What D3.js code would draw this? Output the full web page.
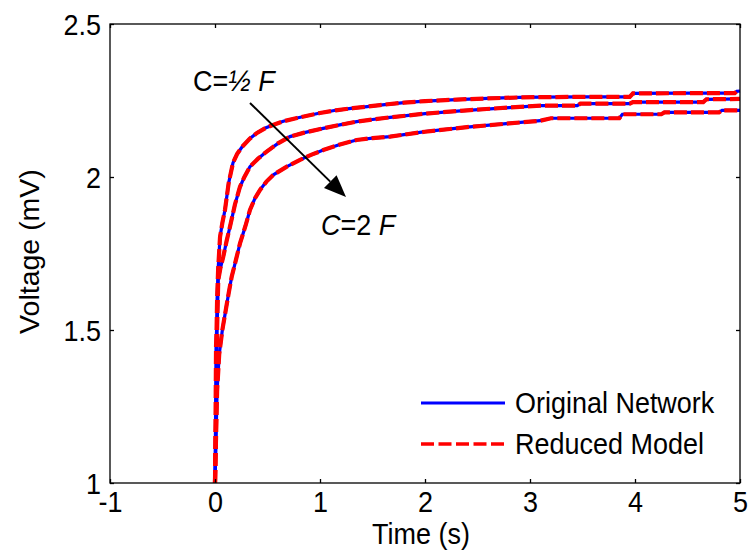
<!DOCTYPE html>
<html><head><meta charset="utf-8">
<script src="https://cdn.jsdelivr.net/npm/d3@7"></script>
<style>
body{margin:0;background:#fff;}
svg text{font-family:"Liberation Sans",Arial,Helvetica,sans-serif;fill:#000;}
.cS{transform-box:fill-box;transform-origin:left center;transform:scaleX(0.93);}
.cM{transform-box:fill-box;transform-origin:center;transform:scaleX(0.93);}
.cE{transform-box:fill-box;transform-origin:right center;transform:scaleX(0.93);}
</style></head>
<body><svg id="c" width="751" height="555"></svg>
<script>
// ---- data ----
const xTicks = [-1, 0, 1, 2, 3, 4, 5];
const xTickLabels = ["-1", "0", "1", "2", "3", "4", "5"];
const yTicks = [1, 1.5, 2, 2.5];
const yTickLabels = ["1", "1.5", "2", "2.5"];

const timeHalf = [0, 0.005, 0.01, 0.015, 0.02, 0.03, 0.048, 0.07, 0.095, 0.13, 0.171, 0.21, 0.257, 0.33, 0.4, 0.48, 0.552, 0.65, 0.781, 0.9, 1.0, 1.15, 1.314, 1.45, 1.571, 1.8, 2.0, 2.3, 2.6, 2.9, 3.1, 3.5, 3.95, 3.98, 4.5, 4.95, 4.97, 5.0];
const voltHalf = [1.0, 1.2, 1.45, 1.5, 1.6, 1.7, 1.804, 1.85, 1.892, 1.98, 2.046, 2.075, 2.098, 2.125, 2.144, 2.16, 2.170, 2.182, 2.193, 2.202, 2.209, 2.218, 2.225, 2.23, 2.235, 2.243, 2.248, 2.253, 2.257, 2.26, 2.261, 2.262, 2.262, 2.273, 2.274, 2.274, 2.280, 2.281];

const timeOne = [0, 0.01, 0.02, 0.031, 0.05, 0.079, 0.11, 0.143, 0.19, 0.238, 0.28, 0.333, 0.41, 0.492, 0.6, 0.714, 0.85, 1.031, 1.2, 1.349, 1.5, 1.667, 2.0, 2.4, 2.8, 3.1, 3.45, 3.48, 3.95, 3.98, 4.65, 4.68, 5.0];
const voltOne = [1.0, 1.2, 1.5, 1.663, 1.70, 1.740, 1.79, 1.838, 1.91, 1.968, 2.0, 2.034, 2.06, 2.083, 2.11, 2.132, 2.145, 2.159, 2.171, 2.181, 2.188, 2.195, 2.207, 2.218, 2.227, 2.233, 2.233, 2.2395, 2.2395, 2.245, 2.245, 2.254, 2.255];

const timeTwo = [0, 0.01, 0.02, 0.04, 0.07, 0.1, 0.13, 0.159, 0.2, 0.238, 0.29, 0.333, 0.38, 0.429, 0.49, 0.556, 0.68, 0.81, 0.92, 1.031, 1.19, 1.349, 1.5, 1.667, 2.0, 2.4, 2.8, 3.1, 3.2, 3.85, 3.88, 4.25, 4.28, 4.8, 4.83, 5.0];
const voltTwo = [1.0, 1.15, 1.3, 1.42, 1.5, 1.56, 1.62, 1.674, 1.73, 1.783, 1.84, 1.892, 1.93, 1.958, 1.985, 2.007, 2.033, 2.056, 2.073, 2.088, 2.106, 2.121, 2.127, 2.132, 2.148, 2.163, 2.175, 2.184, 2.192, 2.192, 2.205, 2.205, 2.211, 2.211, 2.218, 2.218];

const seriesNames = ["Original Network", "Reduced Model"];
const xLabel = "Time (s)";
const yLabel = "Voltage (mV)";

// ---- layout ----
const L = 110, R = 740, T = 24, B = 483;
const FS = 29;
const svg = d3.select("#c");
const x = d3.scaleLinear().domain([-1, 5]).range([L, R]);
const y = d3.scaleLinear().domain([1, 2.5]).range([B, T]);

const curves = [[timeHalf, voltHalf], [timeOne, voltOne], [timeTwo, voltTwo]]
  .map(([t, v]) => t.map((ti, i) => [ti, v[i]]));

const line = d3.line().x(d => x(d[0])).y(d => y(d[1]));

const gPlot = svg.append("g");
curves.forEach(c => {
  gPlot.append("path").attr("d", line(c)).attr("fill", "none")
    .attr("stroke", "#0000ff").attr("stroke-width", 3.2);
});
curves.forEach(c => {
  gPlot.append("path").attr("d", line(c)).attr("fill", "none")
    .attr("stroke", "#ff0000").attr("stroke-width", 4.2)
    .attr("stroke-dasharray", "13,4");
});

// axes box
svg.append("rect").attr("x", L).attr("y", T).attr("width", R - L).attr("height", B - T)
  .attr("fill", "none").attr("stroke", "#000").attr("stroke-width", 1.3);

const tl = 4;
const axB = svg.append("g").attr("transform", `translate(0,${B})`)
  .call(d3.axisBottom(x).tickValues(xTicks).tickSize(-tl).tickFormat((d, i) => xTickLabels[i]));
const axT = svg.append("g").attr("transform", `translate(0,${T})`)
  .call(d3.axisTop(x).tickValues(xTicks).tickSize(-tl).tickFormat(""));
const axL = svg.append("g").attr("transform", `translate(${L},0)`)
  .call(d3.axisLeft(y).tickValues(yTicks).tickSize(-tl).tickPadding(9).tickFormat((d, i) => yTickLabels[i]));
const axR = svg.append("g").attr("transform", `translate(${R},0)`)
  .call(d3.axisRight(y).tickValues(yTicks).tickSize(-tl).tickFormat(""));
[axB, axT, axL, axR].forEach(a => {
  a.select(".domain").remove();
  a.selectAll(".tick line").attr("stroke", "#000").attr("stroke-width", 1.3);
  a.selectAll("text").attr("font-size", FS).attr("font-family", "Liberation Sans, Arial, sans-serif").attr("fill", "#000");
});
axB.selectAll("text").attr("dy", null).attr("y", 29).attr("class", "cM");
axL.selectAll("text").attr("dy", "0.36em").attr("x", -9).attr("class", "cE");

// axis titles
svg.append("text").attr("x", (L + R) / 2 - 4).attr("y", 544).attr("text-anchor", "middle")
  .attr("font-size", FS).attr("class", "cM").text(xLabel);
svg.append("g").attr("transform", `translate(39,${(T + B) / 2 - 2}) rotate(-90)`)
  .append("text").attr("text-anchor", "middle").attr("font-size", 28.5).text(yLabel);

// legend
const lg = svg.append("g");
lg.append("line").attr("x1", 421).attr("x2", 505).attr("y1", 403).attr("y2", 403)
  .attr("stroke", "#0000ff").attr("stroke-width", 3.2);
lg.append("line").attr("x1", 421).attr("x2", 505).attr("y1", 444).attr("y2", 444)
  .attr("stroke", "#ff0000").attr("stroke-width", 3.6).attr("stroke-dasharray", "13,4.5");
lg.append("text").attr("x", 515).attr("y", 413).attr("font-size", FS).attr("class", "cS").text(seriesNames[0]);
lg.append("text").attr("x", 515).attr("y", 454).attr("font-size", FS).attr("class", "cS").text(seriesNames[1]);

// annotations
const a1 = svg.append("text").attr("x", 193).attr("y", 91).attr("font-size", FS).attr("class", "cS");
a1.append("tspan").text("C=");
a1.append("tspan").attr("font-style", "italic").text("½ F");
const a2 = svg.append("text").attr("x", 321).attr("y", 235).attr("font-size", FS).attr("class", "cS");
a2.append("tspan").attr("font-style", "italic").text("C");
a2.append("tspan").text("=2 ");
a2.append("tspan").attr("font-style", "italic").text("F");

// arrow
const ax0 = 250, ay0 = 103, ax1 = 346, ay1 = 197;
const ang = Math.atan2(ay1 - ay0, ax1 - ax0);
const hl = 22, hw = 9;
const bx = ax1 - hl * Math.cos(ang), by = ay1 - hl * Math.sin(ang);
svg.append("line").attr("x1", ax0).attr("y1", ay0).attr("x2", bx).attr("y2", by)
  .attr("stroke", "#000").attr("stroke-width", 2);
svg.append("path").attr("d", d3.line()([
  [ax1, ay1],
  [bx + hw * Math.sin(ang), by - hw * Math.cos(ang)],
  [bx - hw * Math.sin(ang), by + hw * Math.cos(ang)]
])).attr("fill", "#000");
</script></body></html>
